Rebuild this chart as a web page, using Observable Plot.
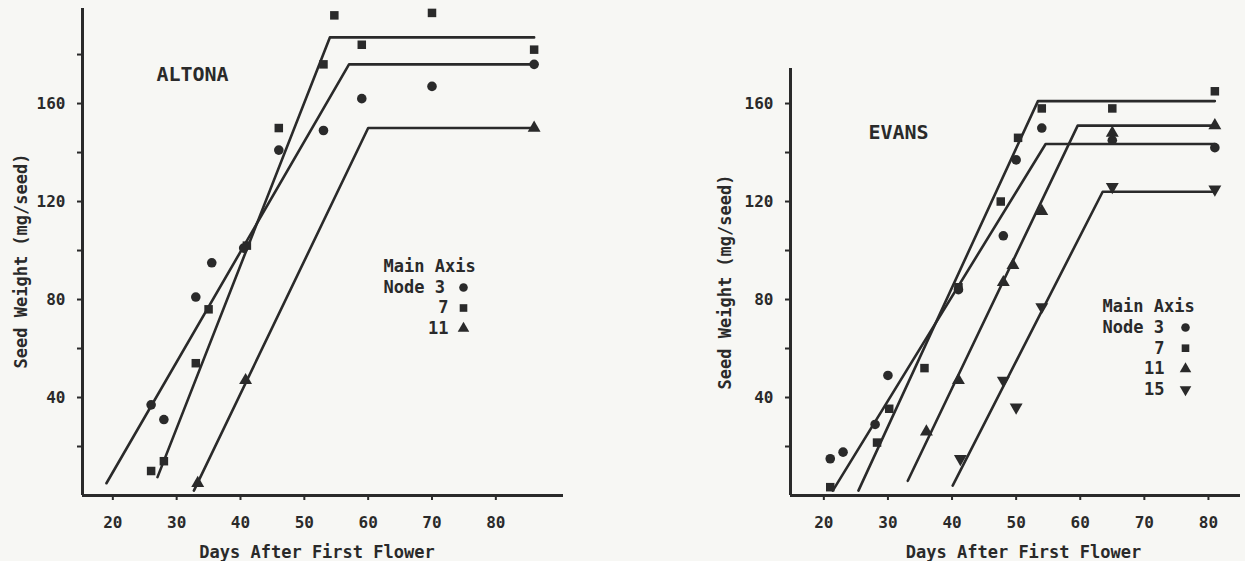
<!DOCTYPE html>
<html>
<head>
<meta charset="utf-8">
<script src="https://cdn.jsdelivr.net/npm/d3@7"></script>
<script src="https://cdn.jsdelivr.net/npm/@observablehq/plot@0.6"></script>
<style>
  html, body { margin: 0; padding: 0; background: #f7f7f4; }
  #wrap { position: relative; width: 1245px; height: 561px; overflow: hidden; background: #f7f7f4; }
  .panel { position: absolute; top: 0; }
</style>
</head>
<body>
<div id="wrap"></div>
<script>
// ---------- DATA ----------
// x tick values (days after first flower)
const xTicks = [20, 30, 40, 50, 60, 70, 80];
// y ticks (every 20), labelled every 40
const yTicksAltona = [20, 40, 60, 80, 100, 120, 140, 160, 180];
const yTicksEvans = [20, 40, 60, 80, 100, 120, 140, 160];
const yTickLabels = [40, 80, 120, 160];

// ALTONA observed points: [day, seed weight mg/seed]
const altonaNode3 = [[26, 37], [28, 31], [33, 81], [35.5, 95], [40.5, 101], [46, 141], [53, 149], [59, 162], [70, 167], [86, 176]];
const altonaNode7 = [[26, 10], [28, 14], [33, 54], [35, 76], [41, 102], [46, 150], [53, 176], [54.7, 196], [59, 184], [70, 197], [86, 182]];
const altonaNode11 = [[33.3, 5], [40.8, 47], [86, 150]];
// ALTONA fitted broken-line models
const altonaFit3 = [[19, 5], [57, 176], [86, 176]];
const altonaFit7 = [[27, 7.5], [54, 187], [86, 187]];
const altonaFit11 = [[32.7, 2], [60, 150], [86, 150]];

// EVANS observed points
const evansNode3 = [[21, 15], [23, 17.7], [28, 29], [30, 49], [41, 84], [48, 106], [50, 137], [54, 150], [65, 145], [81, 142]];
const evansNode7 = [[21, 3.4], [28.3, 21.6], [30.2, 35.4], [35.7, 52], [41, 85], [47.6, 120], [50.3, 146], [54, 158], [65, 158], [81, 165]];
const evansNode11 = [[36, 26], [41, 47], [48, 87], [49.5, 94], [54, 116], [65, 148], [81, 151]];
const evansNode15 = [[41.3, 15], [48, 47], [50, 36], [54, 77], [65, 126], [81, 125]];
// EVANS fitted broken-line models
const evansFit3 = [[21.4, 2], [54.6, 143.5], [81, 143.5]];
const evansFit7 = [[25.4, 2], [53.4, 161], [81, 161]];
const evansFit11 = [[33.1, 6], [59.6, 151], [81, 151]];
const evansFit15 = [[40.1, 4], [63.5, 124], [81, 124]];

// legend entries
const legendNodes = ["3", "7", "11", "15"];

// ---------- STYLE ----------
const ink = "#2a2a2a";
const font = "'DejaVu Sans Mono', 'Liberation Mono', monospace";

function panel(cfg) {
  const marks = [];
  // axis lines
  marks.push(Plot.ruleX([cfg.xDomain[0]], {stroke: ink, strokeWidth: 3}));
  marks.push(Plot.ruleY([cfg.yDomain[0]], {stroke: ink, strokeWidth: 3}));
  // axes
  marks.push(Plot.axisX({ticks: xTicks, tickSize: 5, tickPadding: 16, label: null, stroke: ink, strokeWidth: 2,
    fontSize: 16, fontWeight: "bold", fill: ink}));
  marks.push(Plot.axisY({ticks: cfg.yTicks, tickSize: 5, tickPadding: 12, label: null, stroke: ink, strokeWidth: 2,
    tickFormat: d => yTickLabels.includes(d) ? String(d) : "", fontSize: 16, fontWeight: "bold", fill: ink}));
  // fitted lines
  for (const f of cfg.fits) {
    marks.push(Plot.line(f, {x: d => d[0], y: d => d[1], stroke: ink, strokeWidth: 2.6}));
  }
  // points
  for (const s of cfg.series) {
    marks.push(Plot.dot(s.data, {x: d => d[0], y: d => d[1], symbol: s.symbol, rotate: s.rotate || 0,
      r: s.r || 4.8, fill: ink, stroke: "none"}));
  }
  const txt = {lineAnchor: "middle", fontWeight: "bold", fill: ink};
  // title
  marks.push(Plot.text([cfg.title], {...txt, frameAnchor: "top-left", dx: cfg.titlePos[0], dy: cfg.titlePos[1],
    text: d => d, textAnchor: "middle", fontSize: 20}));
  // axis titles
  marks.push(Plot.text(["Seed Weight (mg/seed)"], {...txt, frameAnchor: "left", dx: cfg.yLabelDx, dy: cfg.yLabelDy,
    text: d => d, rotate: -90, textAnchor: "middle", fontSize: 17}));
  marks.push(Plot.text(["Days After First Flower"], {...txt, frameAnchor: "bottom", dx: cfg.xLabelDx, dy: 57,
    text: d => d, textAnchor: "middle", fontSize: 17}));
  // legend
  const L = cfg.legend;
  marks.push(Plot.text(["Main Axis"], {...txt, frameAnchor: "top-left", dx: L.x, dy: L.y0 - 21, text: d => d,
    textAnchor: "start", fontSize: 17}));
  cfg.series.forEach((s, i) => {
    const dy = L.y0 + i * L.step;
    if (i === 0) {
      marks.push(Plot.text(["Node " + legendNodes[i]], {...txt, frameAnchor: "top-left", dx: L.x, dy, text: d => d,
        textAnchor: "start", fontSize: 17}));
    } else {
      marks.push(Plot.text([legendNodes[i]], {...txt, frameAnchor: "top-left", dx: L.numEnd, dy, text: d => d,
        textAnchor: "end", fontSize: 17}));
    }
    marks.push(Plot.dot([0], {frameAnchor: "top-left", dx: L.sym, dy, symbol: s.symbol, rotate: s.rotate || 0,
      r: 4.3, fill: ink, stroke: "none"}));
  });

  return Plot.plot({
    width: cfg.width, height: 561,
    marginLeft: cfg.ml, marginRight: cfg.mr, marginTop: cfg.mt, marginBottom: 66,
    x: {domain: cfg.xDomain},
    y: {domain: cfg.yDomain},
    style: {fontFamily: font, background: "transparent", color: ink, overflow: "visible"},
    marks
  });
}

const left = panel({
  width: 600, ml: 82, mr: 37, mt: 8,
  xDomain: [15.25, 90.6], yDomain: [0, 198.8], yTicks: yTicksAltona,
  fits: [altonaFit3, altonaFit7, altonaFit11],
  series: [
    {data: altonaNode3, symbol: "circle"},
    {data: altonaNode7, symbol: "square"},
    {data: altonaNode11, symbol: "triangle"}
  ],
  title: "ALTONA", titlePos: [192 - 82, 74 - 8],
  yLabelDx: 21 - 82, yLabelDy: 9, xLabelDx: -6,
  legend: {x: 383 - 82, y0: 287 - 8, step: 20.5, numEnd: 448 - 82, sym: 463 - 82}
});
left.classList.add("panel");
left.style.left = "0px";

const right = panel({
  width: 545, ml: 90, mr: 5, mt: 68,
  xDomain: [14.8, 85.0], yDomain: [0, 174.3], yTicks: yTicksEvans,
  fits: [evansFit3, evansFit7, evansFit11, evansFit15],
  series: [
    {data: evansNode3, symbol: "circle"},
    {data: evansNode7, symbol: "square"},
    {data: evansNode11, symbol: "triangle"},
    {data: evansNode15, symbol: "triangle", rotate: 180}
  ],
  title: "EVANS", titlePos: [898 - 790, 132 - 68],
  yLabelDx: 725 - 790, yLabelDy: 0, xLabelDx: 8,
  legend: {x: 1102 - 790, y0: 327 - 68, step: 20.7, numEnd: 1164 - 790, sym: 1185 - 790}
});
right.classList.add("panel");
right.style.left = "700px";

const wrap = document.getElementById("wrap");
wrap.appendChild(left);
wrap.appendChild(right);
</script>
</body>
</html>
